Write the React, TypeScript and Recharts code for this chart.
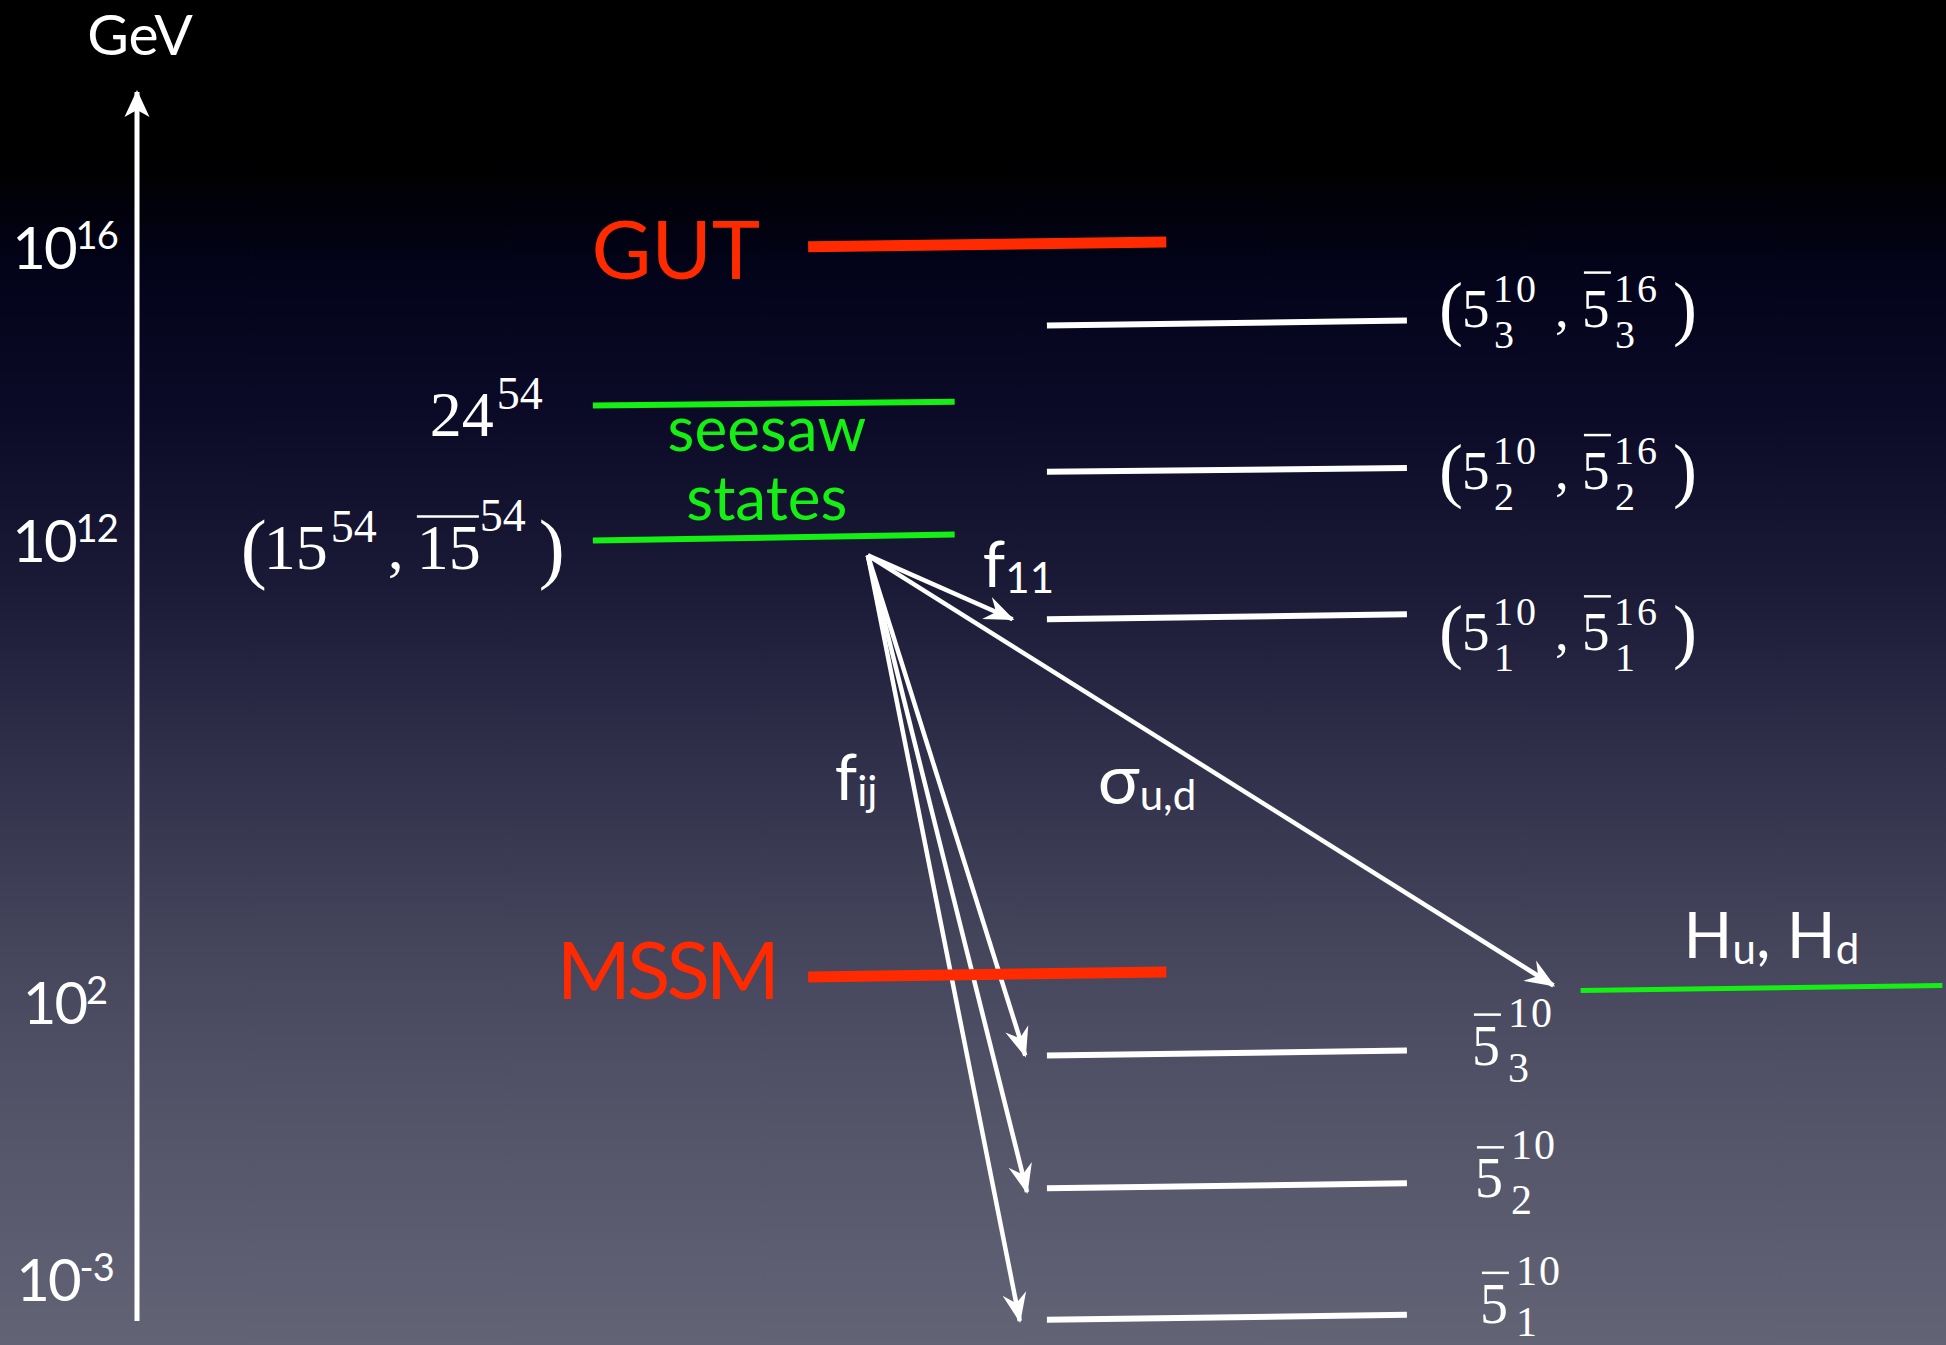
import React from "react";
import { ComposedChart, Line, XAxis, YAxis, ReferenceDot } from "recharts";

const W = 1946;
const H = 1345;

const SANS = "Lato, 'Open Sans', 'DejaVu Sans', sans-serif";
const SERIF = "'Liberation Serif', 'DejaVu Serif', serif";
const WHITE = "#ffffff";
const RED = "#ff2a00";
const GREEN = "#14f014";

const BACKGROUND =
  "linear-gradient(to bottom, #000000 0%, #000000 12%, #03031a 20%, #0b0b28 31%, #1b1b38 44%, #2f2f4a 56%, #44445b 70%, #55556a 84%, #636376 100%)";

// energy axis: schematic height, 0 = foot of the axis, 100 = arrow tip
const TICK_HEIGHTS = [87.3, 63.5, 25.9, 3.3];
const TICK_EXPONENTS = ["16", "12", "2", "-3"];

// horizontal mass levels (x in diagram units 0-100, h on the energy axis)
const LEVEL_NAMES = ["GUT", "24", "15", "MSSM", "pair3", "pair2", "pair1", "bar3", "bar2", "bar1", "higgs"];
const LEVEL_KINDS = ["scale", "seesaw", "seesaw", "scale", "state", "state", "state", "state", "state", "state", "higgs"];
const LEVEL_X0 = [37.1, 25.2, 25.2, 37.1, 50.3, 50.3, 50.3, 50.3, 50.3, 50.3, 79.8];
const LEVEL_X1 = [56.9, 45.2, 45.2, 56.9, 70.2, 70.2, 70.2, 70.2, 70.2, 70.2, 99.8];
const LEVEL_H0 = [87.4, 74.5, 63.5, 28.0, 81.0, 69.1, 57.1, 21.6, 10.8, 0.1, 26.9];
const LEVEL_H1 = [87.8, 74.8, 64.0, 28.4, 81.4, 69.4, 57.5, 22.0, 11.2, 0.5, 27.3];

// couplings leaving the seesaw states
const ARROW_NAMES = ["f11", "sigma", "fij3", "fij2", "fij1"];
const ARROW_FROM_X = 40.4;
const ARROW_FROM_H = 62.3;
const ARROW_TO_X = [48.4, 78.3, 49.1, 49.2, 48.8];
const ARROW_TO_H = [57.1, 27.3, 21.6, 10.5, 0.0];

const KIND_STYLE: Record<string, { stroke: string; width: number }> = {
  scale: { stroke: RED, width: 11 },
  seesaw: { stroke: GREEN, width: 6 },
  state: { stroke: WHITE, width: 6 },
  higgs: { stroke: GREEN, width: 5 },
};

function EnergyTick(props: any) {
  const { x, y, payload } = props;
  const i = TICK_HEIGHTS.indexOf(payload.value);
  return (
    <text x={x} y={y + 21} textAnchor="middle" fill={WHITE} fontFamily={SANS} fontSize={58} letterSpacing={-2}>
      10
      <tspan dy={-20} fontSize={38} letterSpacing={-1}>
        {TICK_EXPONENTS[i]}
      </tspan>
    </text>
  );
}

function ArrowHead(props: any) {
  const { index, points } = props;
  if (index !== 1 || !points || points.length < 2) return <g key={`dot-${index}`} />;
  const p0 = points[0];
  const p1 = points[1];
  const dx = p1.x - p0.x;
  const dy = p1.y - p0.y;
  const len = Math.hypot(dx, dy);
  const ux = dx / len;
  const uy = dy / len;
  const nx = -uy;
  const ny = ux;
  const L = 30;
  const half = 12;
  const notch = 10;
  const tx = p1.x + ux * 2;
  const ty = p1.y + uy * 2;
  const bx = tx - ux * L;
  const by = ty - uy * L;
  const pts = [
    [tx, ty],
    [bx + nx * half, by + ny * half],
    [tx - ux * (L - notch), ty - uy * (L - notch)],
    [bx - nx * half, by - ny * half],
  ];
  return <polygon key={`dot-${index}`} points={pts.map((p) => p.join(",")).join(" ")} fill={WHITE} />;
}

function anchor(key: string, x: number, h: number, render: (cx: number, cy: number) => React.ReactNode) {
  return (
    <ReferenceDot
      key={key}
      x={x}
      y={h}
      r={0}
      ifOverflow="visible"
      shape={(p: any) => <g>{render(p.cx, p.cy)}</g>}
    />
  );
}

// (5^10_k , 5bar^16_k)
function pairLabel(ox: number, b: number, k: string) {
  const big = 55;
  const small = 40;
  const paren = 72;
  return (
    <g fill={WHITE} fontFamily={SERIF}>
      <text x={ox} y={b + 5} fontSize={paren}>(</text>
      <text x={ox + 23} y={b} fontSize={big}>5</text>
      <text x={ox + 54} y={b - 25} fontSize={small} letterSpacing={3}>10</text>
      <text x={ox + 55} y={b + 21} fontSize={small}>{k}</text>
      <text x={ox + 116} y={b} fontSize={big}>,</text>
      <text x={ox + 143} y={b} fontSize={big}>5</text>
      <line x1={ox + 145} x2={ox + 172} y1={b - 54} y2={b - 54} stroke={WHITE} strokeWidth={2.5} />
      <text x={ox + 175} y={b - 25} fontSize={small} letterSpacing={3}>16</text>
      <text x={ox + 176} y={b + 21} fontSize={small}>{k}</text>
      <text x={ox + 234} y={b + 5} fontSize={paren}>)</text>
    </g>
  );
}

// 5bar^10_k
function barLabel(ox: number, b: number, k: string, subDrop: number) {
  return (
    <g fill={WHITE} fontFamily={SERIF}>
      <text x={ox} y={b} fontSize={56}>5</text>
      <line x1={ox + 2} x2={ox + 29} y1={b - 50} y2={b - 50} stroke={WHITE} strokeWidth={2.5} />
      <text x={ox + 36} y={b - 38} fontSize={42} letterSpacing={2}>10</text>
      <text x={ox + 36} y={b + subDrop} fontSize={42}>{k}</text>
    </g>
  );
}

function subLabel(x: number, b: number, main: string, sub: string, size = 64, subSize = 42) {
  return (
    <text x={x} y={b} fill={WHITE} fontFamily={SANS} fontSize={size}>
      {main}
      <tspan dy={6} fontSize={subSize}>
        {sub}
      </tspan>
    </text>
  );
}

export default function App() {
  const pairRows = [4, 5, 6];
  const pairDy = [6, 21, 36];
  const barRows = [7, 8, 9];
  const barDx = [65, 68, 73];
  const barDy = [14, 14, 8];
  const barSubDrop = [17, 17, 13];
  const subs = ["3", "2", "1"];

  return (
    <div
      style={{
        position: "absolute",
        left: 0,
        top: 0,
        width: W,
        height: H,
        background: BACKGROUND,
        overflow: "hidden",
      }}
    >
      <ComposedChart width={W} height={H} margin={{ top: 92, right: 0, bottom: 24, left: 0 }}>
        <XAxis type="number" dataKey="x" domain={[0, 100]} hide />
        <YAxis
          type="number"
          domain={[0, 100]}
          ticks={TICK_HEIGHTS}
          interval={0}
          width={137}
          tickSize={0}
          tickMargin={72}
          tickLine={false}
          axisLine={{ stroke: WHITE, strokeWidth: 5 }}
          tick={EnergyTick}
        />

        {ARROW_NAMES.map((name, i) => (
          <Line
            key={name}
            name={name}
            data={[
              { x: ARROW_FROM_X, h: ARROW_FROM_H },
              { x: ARROW_TO_X[i], h: ARROW_TO_H[i] },
            ]}
            dataKey="h"
            stroke={WHITE}
            strokeWidth={4.5}
            dot={ArrowHead}
            activeDot={false}
            isAnimationActive={false}
          />
        ))}

        {LEVEL_NAMES.map((name, i) => {
          const s = KIND_STYLE[LEVEL_KINDS[i]];
          return (
            <Line
              key={name}
              name={name}
              data={[
                { x: LEVEL_X0[i], h: LEVEL_H0[i] },
                { x: LEVEL_X1[i], h: LEVEL_H1[i] },
              ]}
              dataKey="h"
              stroke={s.stroke}
              strokeWidth={s.width}
              dot={false}
              activeDot={false}
              isAnimationActive={false}
            />
          );
        })}

        {/* arrow tip of the energy axis and its unit */}
        {anchor("axis-head", 0, 100, (cx, cy) => (
          <>
            <polygon
              points={`${cx},${cy - 2} ${cx + 12.5},${cy + 25} ${cx},${cy + 18} ${cx - 12.5},${cy + 25}`}
              fill={WHITE}
            />
            <text x={cx + 3} y={cy - 37} textAnchor="middle" fill={WHITE} fontFamily={SANS} fontSize={57}>
              GeV
            </text>
          </>
        ))}

        {anchor("gut-label", LEVEL_X0[0], LEVEL_H0[0], (cx, cy) => (
          <text x={cx - 48} y={cy + 32} textAnchor="end" fill={RED} fontFamily={SANS} fontSize={82}>
            GUT
          </text>
        ))}
        {anchor("mssm-label", LEVEL_X0[3], LEVEL_H0[3], (cx, cy) => (
          <text
            x={cx - 32}
            y={cy + 22}
            textAnchor="end"
            fill={RED}
            fontFamily={SANS}
            fontSize={80}
            letterSpacing={-4}
          >
            MSSM
          </text>
        ))}

        {anchor("seesaw-label", LEVEL_X0[1], LEVEL_H0[1], (cx, cy) => (
          <g fill={GREEN} fontFamily={SANS} fontSize={62} textAnchor="middle">
            <text x={cx + 174} y={cy + 46}>seesaw</text>
            <text x={cx + 174} y={cy + 115}>states</text>
          </g>
        ))}

        {anchor("24-label", LEVEL_X0[1], LEVEL_H0[1], (cx, cy) => (
          <g fill={WHITE} fontFamily={SERIF}>
            <text x={cx - 163} y={cy + 31} fontSize={64}>24</text>
            <text x={cx - 96} y={cy + 4} fontSize={46}>54</text>
          </g>
        ))}

        {anchor("15-label", LEVEL_X0[2], LEVEL_H0[2], (cx, cy) => {
          const ox = cx - 352;
          const b = cy + 28;
          return (
            <g fill={WHITE} fontFamily={SERIF}>
              <text x={ox} y={b + 5} fontSize={78}>(</text>
              <text x={ox + 23} y={b} fontSize={64}>15</text>
              <text x={ox + 90} y={b - 27} fontSize={46}>54</text>
              <text x={ox + 147} y={b} fontSize={64}>,</text>
              <text x={ox + 176} y={b} fontSize={64}>15</text>
              <line x1={ox + 176} x2={ox + 238} y1={b - 52} y2={b - 52} stroke={WHITE} strokeWidth={2.5} />
              <text x={ox + 239} y={b - 38} fontSize={46}>54</text>
              <text x={ox + 298} y={b + 5} fontSize={78}>)</text>
            </g>
          );
        })}

        {pairRows.map((li, r) =>
          anchor(`pair-label-${r}`, LEVEL_X1[li], LEVEL_H1[li], (cx, cy) =>
            pairLabel(cx + 32, cy + pairDy[r], subs[r])
          )
        )}

        {barRows.map((li, r) =>
          anchor(`bar-label-${r}`, LEVEL_X1[li], LEVEL_H1[li], (cx, cy) =>
            barLabel(cx + barDx[r], cy + barDy[r], subs[r], barSubDrop[r])
          )
        )}

        {anchor("higgs-label", LEVEL_X0[10], LEVEL_H0[10], (cx, cy) => (
          <text x={cx + 103} y={cy - 32} fill={WHITE} fontFamily={SANS} fontSize={64}>
            H
            <tspan dy={6} fontSize={42}>u</tspan>
            <tspan dy={-6} fontSize={64}>, H</tspan>
            <tspan dy={6} fontSize={42}>d</tspan>
          </text>
        ))}

        {anchor("coupling-labels", ARROW_FROM_X, ARROW_FROM_H, (cx, cy) => (
          <>
            {subLabel(cx + 115, cy + 32, "f", "11")}
            {subLabel(cx - 33, cy + 245, "f", "ij")}
            {subLabel(cx + 230, cy + 249, "σ", "u,d", 70, 42)}
          </>
        ))}
      </ComposedChart>
    </div>
  );
}
